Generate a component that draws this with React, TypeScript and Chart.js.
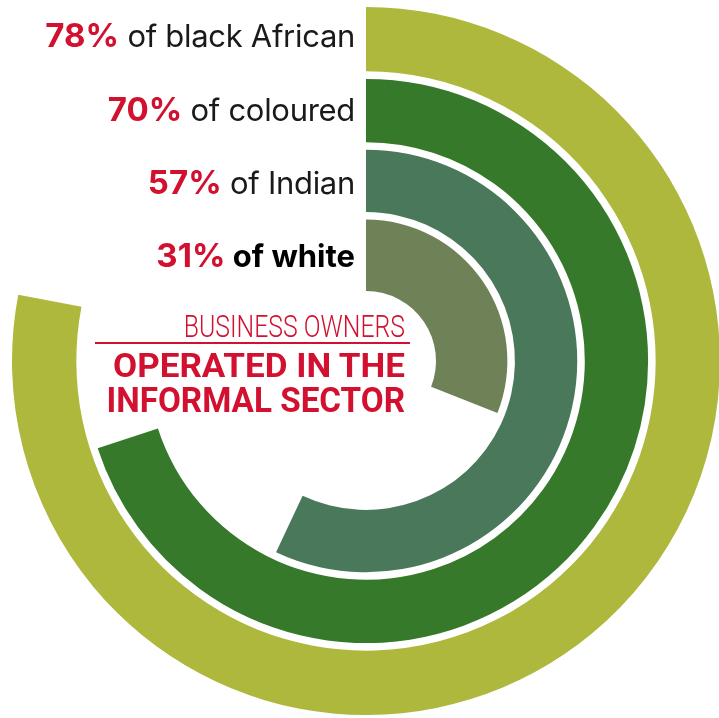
import React, { useEffect, useRef } from 'react';
import { Chart, registerables } from 'chart.js';

Chart.register(...registerables);

// ---- data ----
const groups = ['black African', 'coloured', 'Indian', 'white'];
const shares = [78, 70, 57, 31];
const titleTop = 'BUSINESS OWNERS';
const titleMain = ['OPERATED IN THE', 'INFORMAL SECTOR'];

// ---- styles ----
const ringColors = ['#adb83c', '#37792a', '#4a785a', '#6f8257'];
const ringWeights = [64, 63, 62, 71];
const gapWeight = 7.5;
const RED = '#d2102f';
const labelBaselines = [47, 121, 194, 267];

export default function App() {
  const ref = useRef<HTMLCanvasElement>(null);

  useEffect(() => {
    const datasets: any[] = [];
    shares.forEach((v, i) => {
      if (i > 0) {
        datasets.push({
          label: 'gap',
          data: [100],
          backgroundColor: ['rgba(0,0,0,0)'],
          borderWidth: 0,
          weight: gapWeight,
        });
      }
      datasets.push({
        label: groups[i],
        data: [v, 100 - v],
        backgroundColor: [ringColors[i], 'rgba(0,0,0,0)'],
        borderWidth: 0,
        weight: ringWeights[i],
      });
    });
    const chart = new Chart(ref.current!, {
      type: 'doughnut',
      data: { labels: ['share', 'rest'], datasets },
      options: {
        responsive: false,
        animation: false,
        events: [],
        cutout: 70,
        layout: { padding: 6 },
        plugins: { legend: { display: false }, tooltip: { enabled: false } },
      },
    });
    return () => chart.destroy();
  }, []);

  const labelFont = 'Inter, "Noto Sans", sans-serif';
  const titleFont = 'Roboto, "Liberation Sans", sans-serif';

  return (
    <div
      style={{
        position: 'fixed',
        left: 0,
        top: 0,
        width: 719,
        height: 718,
        overflow: 'hidden',
        background: '#fff',
      }}
    >
      <canvas
        ref={ref}
        width={720}
        height={720}
        style={{ position: 'absolute', left: 6, top: 1, width: 720, height: 720 }}
      />
      {shares.map((v, i) => (
        <div
          key={i}
          style={{
            position: 'absolute',
            left: 0,
            width: 355,
            top: labelBaselines[i] - 32,
            height: 40,
            display: 'flex',
            justifyContent: 'flex-end',
            alignItems: 'baseline',
            fontFamily: labelFont,
            lineHeight: '40px',
            whiteSpace: 'pre',
            color: '#1a1a1a',
          }}
        >
          <span style={{ color: RED, fontWeight: 700, fontSize: 33, lineHeight: '40px' }}>{v}%</span>
          <span
            style={{
              fontSize: 31,
              lineHeight: '40px',
              letterSpacing: i === 3 ? '0px' : '-0.3px',
              fontWeight: i === 3 ? 700 : 400,
              color: i === 3 ? '#000' : '#1a1a1a',
            }}
          >
            {' of ' + groups[i]}
          </span>
        </div>
      ))}
      <div
        style={{
          position: 'absolute',
          left: 0,
          width: 405,
          top: 311,
          textAlign: 'right',
          fontFamily: titleFont,
          fontWeight: 300,
          fontSize: 31,
          lineHeight: '31px',
          color: RED,
          whiteSpace: 'nowrap',
          transform: 'scaleX(0.8)',
          transformOrigin: 'right',
        }}
      >
        {titleTop}
      </div>
      <div
        style={{
          position: 'absolute',
          left: 95,
          top: 342,
          width: 315,
          height: 2,
          background: RED,
        }}
      />
      {titleMain.map((t, i) => (
        <div
          key={t}
          style={{
            position: 'absolute',
            left: 0,
            width: 405,
            top: i === 0 ? 348.4 : 382.5,
            textAlign: 'right',
            fontFamily: titleFont,
            fontWeight: 700,
            fontSize: i === 0 ? 34 : 35,
            lineHeight: i === 0 ? '34px' : '35px',
            color: RED,
            whiteSpace: 'nowrap',
            transform: i === 0 ? 'scaleX(1.03)' : 'scaleX(0.95)',
            transformOrigin: 'right',
          }}
        >
          {t}
        </div>
      ))}
    </div>
  );
}
